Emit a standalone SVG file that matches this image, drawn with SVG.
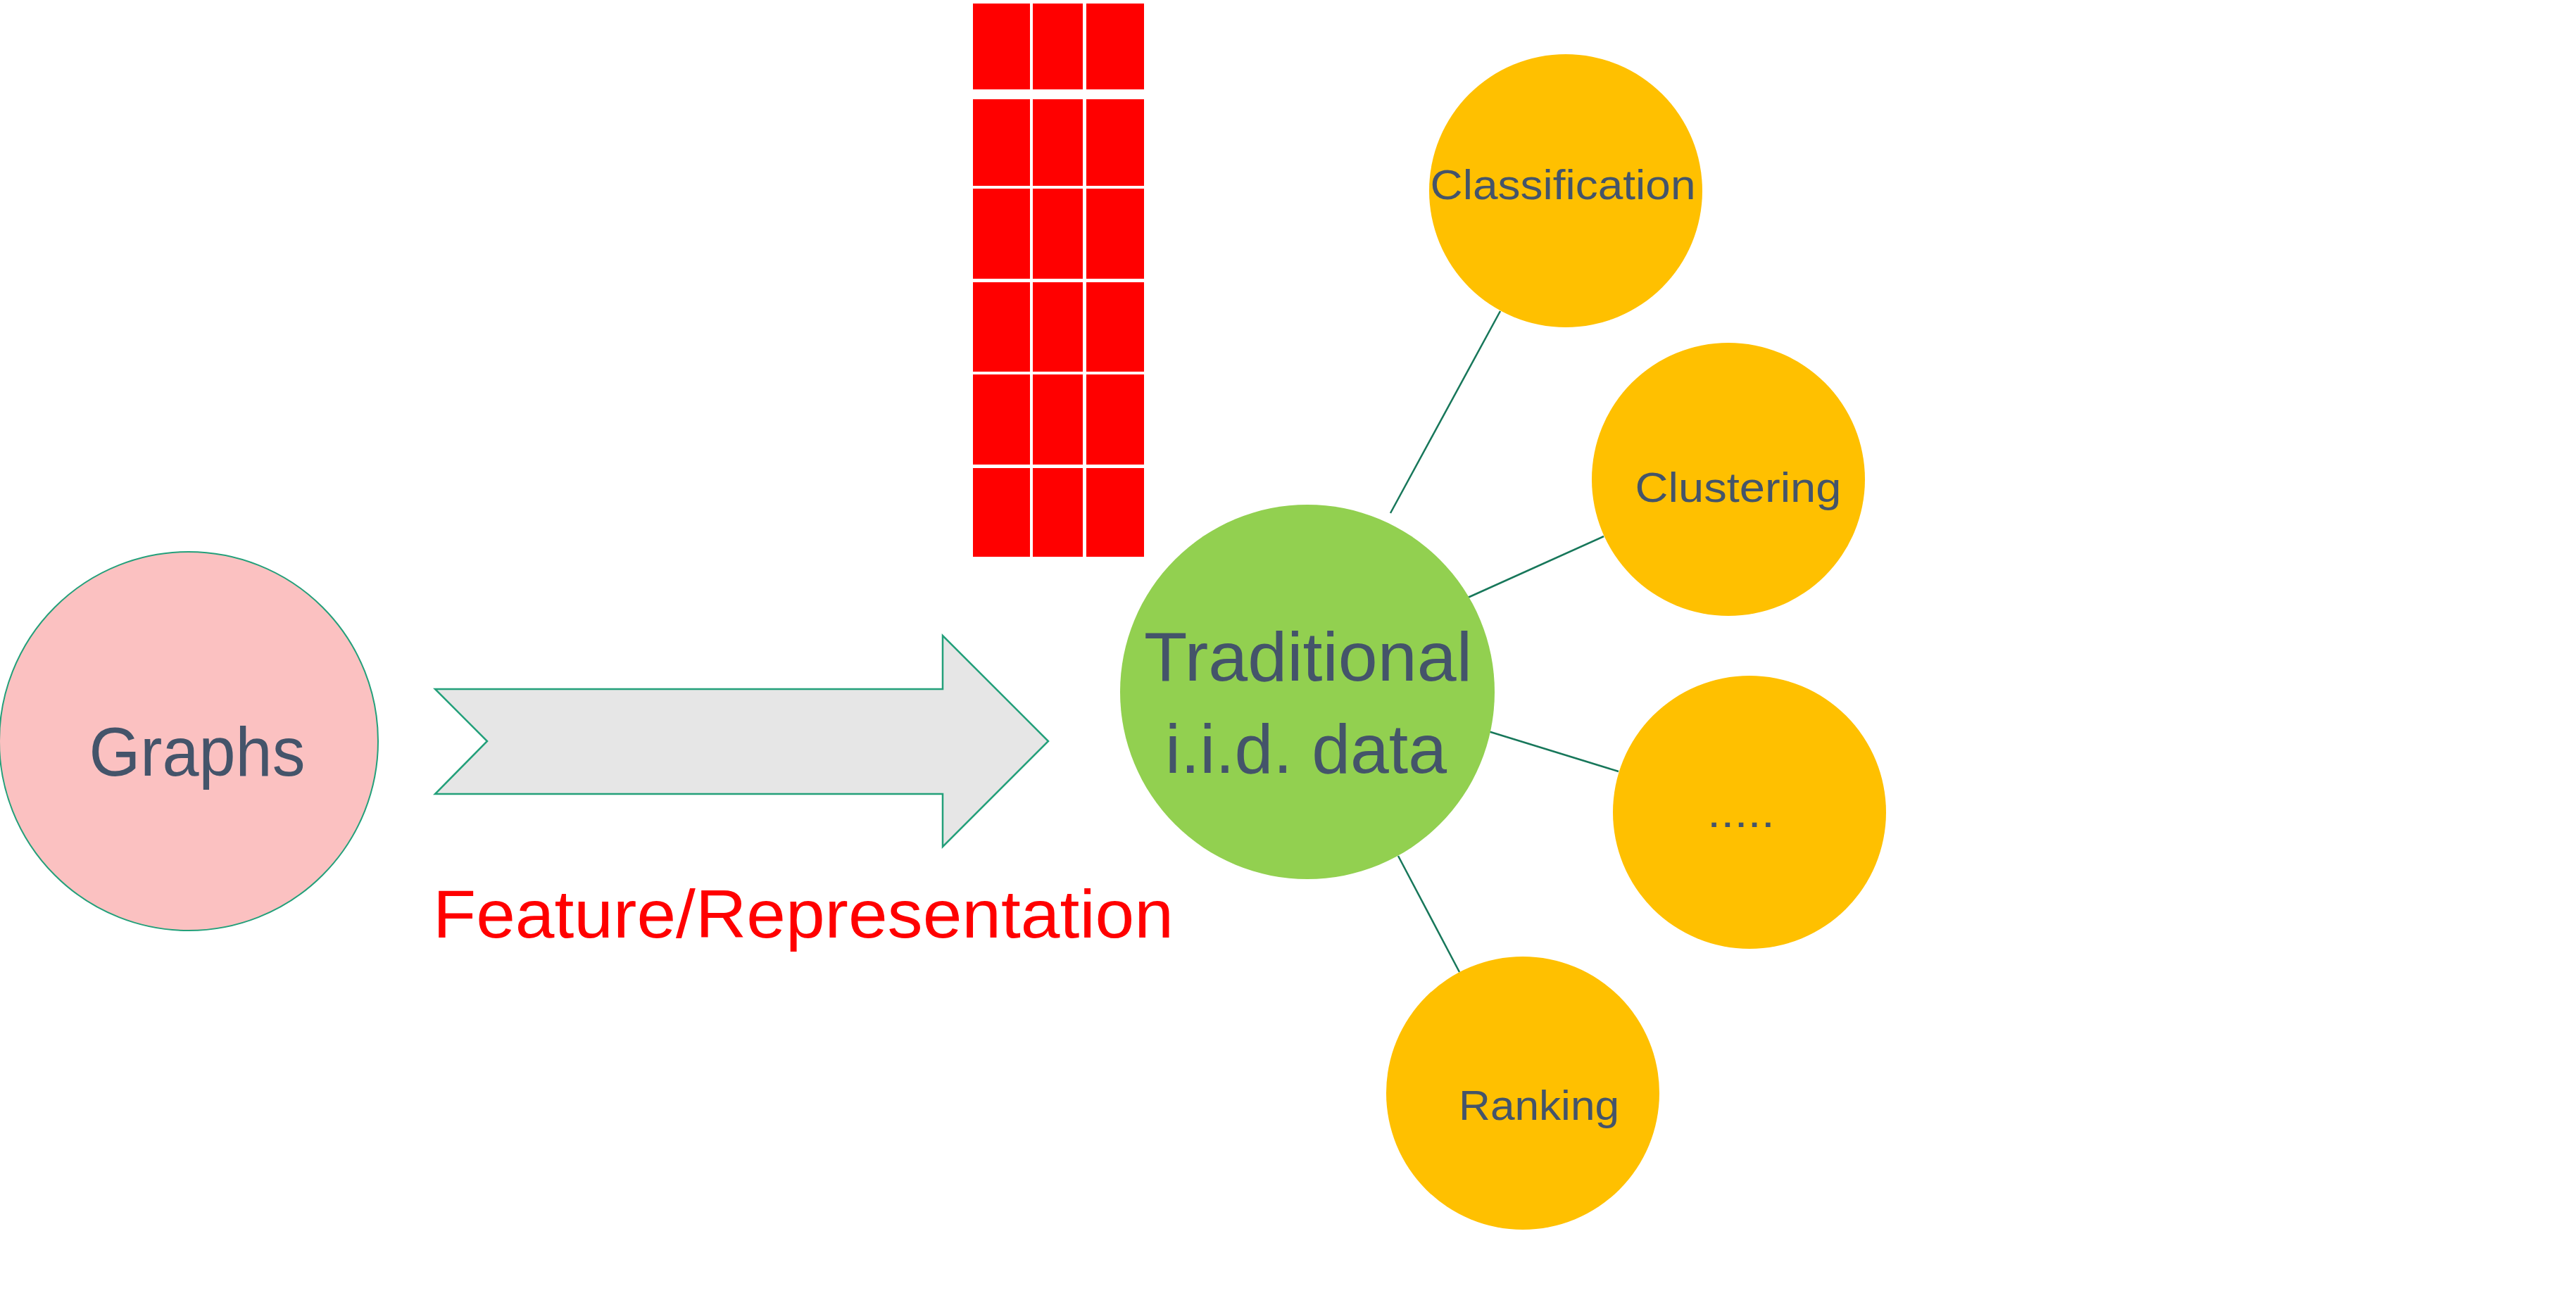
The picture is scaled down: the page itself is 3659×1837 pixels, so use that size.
<svg xmlns="http://www.w3.org/2000/svg" width="3659" height="1837" viewBox="0 0 3659 1837">
<style>
.lbl{font-family:"Liberation Sans",Arial,sans-serif;fill:#44546A;text-anchor:middle}
.big{font-size:98px}
.small{font-size:60px}
.task{fill:#FFC000}
.cell{fill:#FF0000}
.conn{stroke:#17775A;stroke-width:2.5;fill:none}
</style>
<rect width="3659" height="1837" fill="#FFFFFF"/>
<g id="feature-grid">
<rect class="cell" x="1382" y="5" width="81" height="122"/>
<rect class="cell" x="1467" y="5" width="71" height="122"/>
<rect class="cell" x="1543" y="5" width="82" height="122"/>
<rect class="cell" x="1382" y="141" width="81" height="123"/>
<rect class="cell" x="1467" y="141" width="71" height="123"/>
<rect class="cell" x="1543" y="141" width="82" height="123"/>
<rect class="cell" x="1382" y="268" width="81" height="128"/>
<rect class="cell" x="1467" y="268" width="71" height="128"/>
<rect class="cell" x="1543" y="268" width="82" height="128"/>
<rect class="cell" x="1382" y="401" width="81" height="127"/>
<rect class="cell" x="1467" y="401" width="71" height="127"/>
<rect class="cell" x="1543" y="401" width="82" height="127"/>
<rect class="cell" x="1382" y="532" width="81" height="128"/>
<rect class="cell" x="1467" y="532" width="71" height="128"/>
<rect class="cell" x="1543" y="532" width="82" height="128"/>
<rect class="cell" x="1382" y="665" width="81" height="126"/>
<rect class="cell" x="1467" y="665" width="71" height="126"/>
<rect class="cell" x="1543" y="665" width="82" height="126"/>
</g>
<g id="connectors">
<line class="conn" x1="1975" y1="729" x2="2131" y2="442"/>
<line class="conn" x1="2085" y1="849" x2="2278" y2="762"/>
<line class="conn" x1="2114" y1="1039" x2="2299" y2="1096"/>
<line class="conn" x1="1986" y1="1216" x2="2073" y2="1381"/>
</g>
<g id="graphs">
<circle cx="268" cy="1053" r="269" fill="#FBC1C1" stroke="#23A07A" stroke-width="2"/>
<text class="lbl big" x="280" y="1102" textLength="307" lengthAdjust="spacingAndGlyphs">Graphs</text>
</g>
<g id="arrow">
<polygon points="618,979 1339,979 1339,903 1489,1053 1339,1203 1339,1128 618,1128 692,1053" fill="#E6E6E6" stroke="#23A07A" stroke-width="2.5" stroke-linejoin="miter"/>
</g>
<g id="feature-label">
<text x="1141" y="1332" font-family="'Liberation Sans',Arial,sans-serif" font-size="96" fill="#FF0000" text-anchor="middle" textLength="1052" lengthAdjust="spacingAndGlyphs">Feature/Representation</text>
</g>
<g id="traditional">
<circle cx="1857" cy="983" r="266" fill="#92D050"/>
<text class="lbl big" x="1858" y="967" textLength="466" lengthAdjust="spacingAndGlyphs">Traditional</text>
<text class="lbl big" x="1855" y="1098" textLength="400" lengthAdjust="spacingAndGlyphs">i.i.d. data</text>
</g>
<g id="classification">
<circle class="task" cx="2224" cy="271" r="194"/>
<text class="lbl small" x="2220" y="283" textLength="377" lengthAdjust="spacingAndGlyphs">Classification</text>
</g>
<g id="clustering">
<circle class="task" cx="2455" cy="681" r="194"/>
<text class="lbl small" x="2469" y="713" textLength="293" lengthAdjust="spacingAndGlyphs">Clustering</text>
</g>
<g id="more">
<circle class="task" cx="2485" cy="1154" r="194"/>
<text class="lbl small" x="2473" y="1175" textLength="96" lengthAdjust="spacingAndGlyphs">.....</text>
</g>
<g id="ranking">
<circle class="task" cx="2163" cy="1553" r="194"/>
<text class="lbl small" x="2186" y="1591" textLength="228" lengthAdjust="spacingAndGlyphs">Ranking</text>
</g>
</svg>
